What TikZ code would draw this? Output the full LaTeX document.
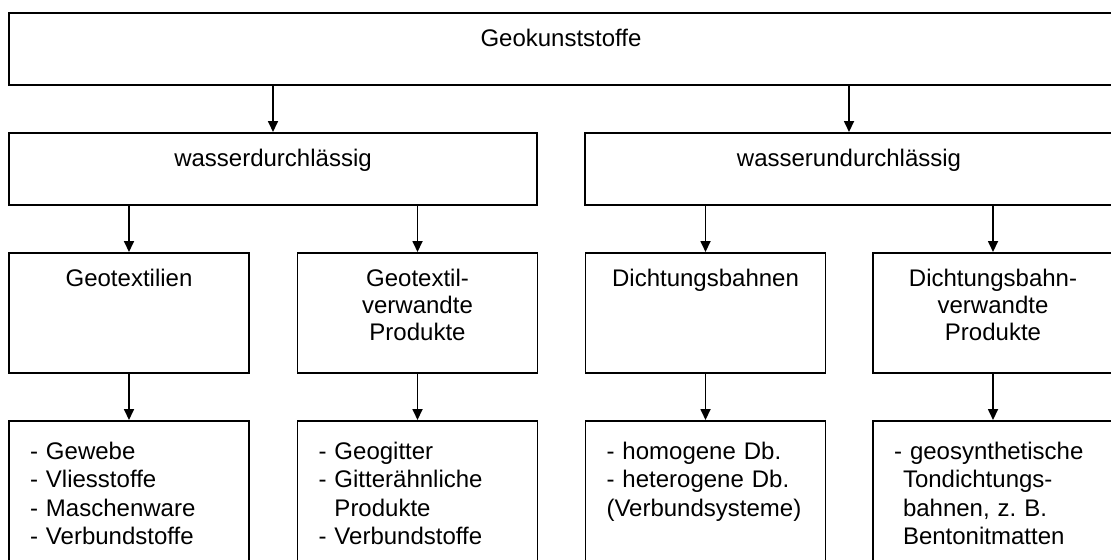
\documentclass[tikz,border=0pt]{standalone}
\usepackage{fontspec}
\setmainfont{Liberation Sans}
\usetikzlibrary{arrows.meta}
\frenchspacing

\begin{document}
\begin{tikzpicture}[x=0.5pt, y=-0.5pt,
    catbox/.style={draw, line width=0.85pt, anchor=north, inner xsep=0pt, inner ysep=0pt, align=center, font=\fontsize{12}{13.35}\selectfont, text height=17pt},
    rootbox/.style={catbox, text width=552pt, text depth=19pt},
    groupbox/.style={catbox, text width=264pt, text depth=19pt},
    typebox/.style={catbox, text width=120pt, text depth=43pt},
    listbox/.style={catbox, align=left, inner xsep=10.5pt, text width=99pt, text height=19.3pt, text depth=60pt, font=\fontsize{12}{14.2}\selectfont},
    arr/.style={-{Triangle[width=5pt,length=5.5pt]}, line width=0.85pt}
]
\clip (0,0) rectangle (1111,559);

\node[rootbox] (geo) at (561,12) {Geokunststoffe};

\node[groupbox] (durch) at (273,132) {wasserdurchlässig};
\node[groupbox] (undurch) at (849,132) {wasserundurchlässig};

\node[typebox] (gtex) at (129,252) {Geotextilien};
\node[typebox] (gverw) at (417.5,252) {Geotextil-\\verwandte\\Produkte};
\node[typebox] (dbahn) at (705.5,252) {Dichtungsbahnen};
\node[typebox] (dverw) at (993,252) {Dichtungsbahn-\\verwandte\\Produkte};

\node[listbox] (gtexlist) at (129,420) {- Gewebe\\- Vliesstoffe\\- Maschenware\\- Verbundstoffe};
\node[listbox] (gverwlist) at (417.5,420) {- Geogitter\\- Gitterähnliche\\\phantom{- }Produkte\\- Verbundstoffe};
\node[listbox] (dbahnlist) at (705.5,420) {- homogene Db.\\- heterogene Db.\\(Verbundsysteme)};
\node[listbox] (dverwlist) at (993,420) {- geosynthetische\\\hspace*{4.5pt}Tondichtungs-\\\hspace*{4.5pt}bahnen, z. B.\\\hspace*{4.5pt}Bentonitmatten};

\draw[arr] (geo.south -| durch.north) -- (durch.north);
\draw[arr] (geo.south -| undurch.north) -- (undurch.north);
\draw[arr] (durch.south -| gtex.north) -- (gtex.north);
\draw[arr] (durch.south -| gverw.north) -- (gverw.north);
\draw[arr] (undurch.south -| dbahn.north) -- (dbahn.north);
\draw[arr] (undurch.south -| dverw.north) -- (dverw.north);
\draw[arr] (gtex.south) -- (gtexlist.north);
\draw[arr] (gverw.south) -- (gverwlist.north);
\draw[arr] (dbahn.south) -- (dbahnlist.north);
\draw[arr] (dverw.south) -- (dverwlist.north);
\end{tikzpicture}
\end{document}
